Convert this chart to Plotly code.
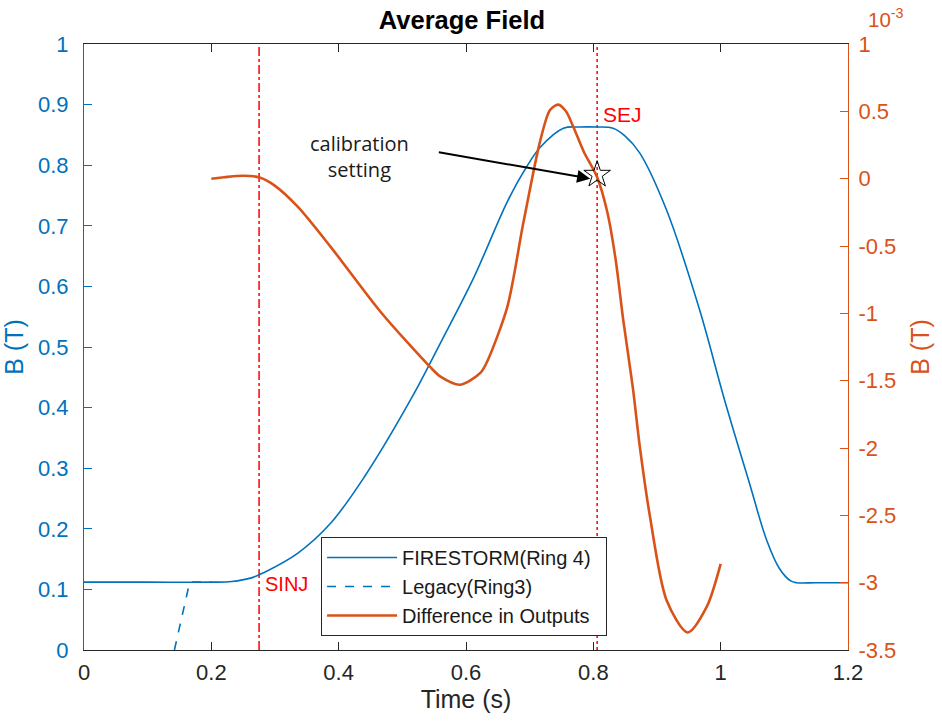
import plotly.graph_objects as go

# FIRESTORM (Ring 4) average field, T
t_fire = [0.0, 0.10, 0.20, 0.232, 0.263, 0.283, 0.336, 0.388, 0.440, 0.513, 0.560, 0.612,
          0.665, 0.695, 0.717, 0.753, 0.779, 0.805, 0.831, 0.850, 0.873, 0.915, 0.967, 1.006,
          1.045, 1.072, 1.092, 1.110, 1.119, 1.15, 1.2]
b_fire = [0.112, 0.112, 0.112, 0.113, 0.119, 0.128, 0.160, 0.210, 0.285, 0.413, 0.507, 0.614,
          0.740, 0.797, 0.830, 0.861, 0.863, 0.863, 0.861, 0.848, 0.820, 0.726, 0.561, 0.413,
          0.276, 0.182, 0.135, 0.114, 0.111, 0.111, 0.111]

# Legacy (Ring3)
t_legacy = [0.142, 0.166, 0.20]
b_legacy = [0.0, 0.112, 0.112]

# Difference in outputs, units of 1e-3 T
t_diff = [0.20, 0.22, 0.24, 0.26, 0.275, 0.299, 0.336, 0.388, 0.466, 0.544, 0.560, 0.591,
          0.623, 0.634, 0.665, 0.690, 0.717, 0.732, 0.745, 0.757, 0.769, 0.785, 0.806, 0.822,
          0.835, 0.847, 0.862, 0.873, 0.889, 0.915, 0.948, 0.978, 1.0]
d_diff = [0.0, 0.01, 0.02, 0.02, 0.01, -0.05, -0.21, -0.51, -0.99, -1.40, -1.47, -1.53,
          -1.44, -1.35, -0.95, -0.33, 0.29, 0.51, 0.55, 0.50, 0.38, 0.20, 0.01, -0.25,
          -0.60, -1.05, -1.55, -1.99, -2.51, -3.13, -3.37, -3.18, -2.86]

t_sinj = 0.275
t_sej = 0.806
star_t, star_d = 0.806, 0.03

left_ticks = [0, 0.1, 0.2, 0.3, 0.4, 0.5, 0.6, 0.7, 0.8, 0.9, 1]
left_labels = ["0", "0.1", "0.2", "0.3", "0.4", "0.5", "0.6", "0.7", "0.8", "0.9", "1"]
right_ticks = [1, 0.5, 0, -0.5, -1, -1.5, -2, -2.5, -3, -3.5]
right_labels = ["1", "0.5", "0", "-0.5", "-1", "-1.5", "-2", "-2.5", "-3", "-3.5"]
x_ticks = [0, 0.2, 0.4, 0.6, 0.8, 1.0, 1.2]
x_labels = ["0", "0.2", "0.4", "0.6", "0.8", "1", "1.2"]

BLUE = "#0072BD"
ORANGE = "#D95319"
FONT = "Liberation Sans"
TICK = 22

fig = go.Figure()
fig.add_trace(go.Scatter(x=t_fire, y=b_fire, mode="lines", name="FIRESTORM(Ring 4)",
                         line=dict(color=BLUE, width=1.6, shape="spline", smoothing=1.0)))
fig.add_trace(go.Scatter(x=t_legacy, y=b_legacy, mode="lines", name="Legacy(Ring3)",
                         line=dict(color=BLUE, width=1.6, dash="dash")))
fig.add_trace(go.Scatter(x=t_diff, y=d_diff, mode="lines",
                         name="Difference in Outputs\u00a0\u00a0",
                         yaxis="y2",
                         line=dict(color=ORANGE, width=2.6, shape="spline", smoothing=0.8)))
fig.add_trace(go.Scatter(x=[star_t], y=[star_d], mode="markers", yaxis="y2", showlegend=False,
                         marker=dict(symbol="star-open", size=20, color="black",
                                     line=dict(color="black", width=1))))

# vertical lines
fig.add_shape(type="line", xref="x", yref="paper", x0=t_sinj, x1=t_sinj, y0=0, y1=1,
              line=dict(color="#FF0000", width=1.5, dash="dashdot"), layer="below")
fig.add_shape(type="line", xref="x", yref="paper", x0=t_sej, x1=t_sej, y0=0, y1=1,
              line=dict(color="#FF0000", width=1.5, dash="dot"), layer="below")

fig.add_annotation(x=t_sinj, y=0.11, xref="x", yref="y", text="SINJ", showarrow=False,
                   xanchor="left", xshift=4, yanchor="middle", yshift=-1,
                   font=dict(color="#FF0000", size=20, family=FONT))
fig.add_annotation(x=t_sej, y=0.885, xref="x", yref="y", text="SEJ", showarrow=False,
                   xanchor="left", xshift=4, yanchor="middle", yshift=-1,
                   font=dict(color="#FF0000", size=21, family=FONT))

# calibration arrow
fig.add_annotation(x=0.795, y=0.0, xref="x", yref="y2", ax=0.555, ay=0.198,
                   axref="x", ayref="y2", text="", showarrow=True, arrowhead=2,
                   arrowsize=1.3, arrowwidth=2, arrowcolor="black", standoff=0)
fig.add_annotation(x=0.432, y=0.814, xref="x", yref="y", text="calibration<br>setting",
                   showarrow=False, align="center",
                   font=dict(color="#1a1a1a", size=20, family="Open Sans"))

fig.add_annotation(x=1.0, y=1.0, xref="paper", yref="paper", text="10<sup>-3</sup>",
                   showarrow=False, xanchor="left", yanchor="bottom", xshift=18, yshift=11,
                   font=dict(color=ORANGE, size=20.5, family=FONT))

fig.update_layout(
    width=942, height=728,
    margin=dict(l=82, r=93, t=44, b=78),
    paper_bgcolor="white", plot_bgcolor="white",
    font=dict(family=FONT, size=TICK, color="#262626"),
    title=dict(text="<b>Average Field</b>", x=0.4904, xanchor="center", y=0.972, yanchor="middle",
               font=dict(size=25.5, color="black", family=FONT)),
    xaxis=dict(range=[0, 1.2], tickvals=x_ticks, ticktext=x_labels, ticks="inside",
               ticklen=8, tickcolor="#262626", showline=True, linecolor="#262626",
               linewidth=1, mirror="ticks", showgrid=False, zeroline=False,
               ticklabelstandoff=3,
               title=dict(text="Time (s)", font=dict(size=25, color="#262626"), standoff=6),
               tickfont=dict(size=TICK, color="#262626")),
    yaxis=dict(range=[0, 1], tickvals=left_ticks, ticktext=left_labels, ticks="inside",
               ticklen=8, tickcolor=BLUE, showline=True, linecolor=BLUE, linewidth=1,
               showgrid=False, zeroline=False, ticklabelstandoff=10,
               title=dict(text="B (T)", font=dict(size=25, color=BLUE), standoff=9),
               tickfont=dict(size=TICK, color=BLUE)),
    yaxis2=dict(range=[-3.5, 1], tickvals=right_ticks, ticktext=right_labels, ticks="inside",
                ticklen=8, tickcolor=ORANGE, showline=True, linecolor=ORANGE, linewidth=1,
                overlaying="y", side="right", showgrid=False, zeroline=False,
                ticklabelstandoff=5,
                title=dict(text="B (T)", font=dict(size=25, color=ORANGE), standoff=16),
                tickfont=dict(size=TICK, color=ORANGE)),
    legend=dict(x=0.3103, y=0.1865, xanchor="left", yanchor="top", bgcolor="white",
                bordercolor="#262626", borderwidth=1,
                font=dict(size=20, color="#1a1a1a", family=FONT),
                tracegroupgap=0, itemwidth=70),
    showlegend=True,
)

fig.write_html("out.html")
